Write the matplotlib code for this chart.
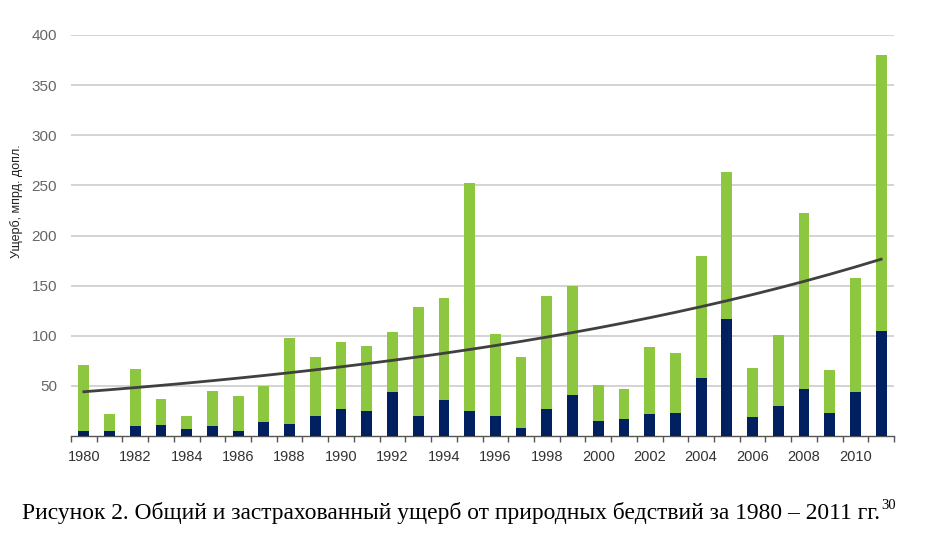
import numpy as np
import matplotlib
matplotlib.use('Agg')
import matplotlib.pyplot as plt

years = list(range(1980, 2012))
total = [71, 22, 67, 37, 20, 45, 40, 50, 98, 79,
         94, 90, 104, 129, 138, 252, 102, 79, 140, 150,
         51, 47, 89, 83, 180, 263, 68, 101, 222, 66,
         158, 380]
insured = [5, 5, 10, 11, 7, 10, 5, 14, 12, 20,
           27, 25, 44, 20, 36, 25, 20, 8, 27, 41,
           15, 17, 22, 23, 58, 117, 19, 30, 47, 23,
           44, 105]
y_ticks = [50, 100, 150, 200, 250, 300, 350, 400]
y_label = 'Ущерб, мпрд. допл.'
caption = 'Рисунок 2. Общий и застрахованный ущерб от природных бедствий за 1980 – 2011 гг.'
footnote = '30'

green = '#8dc63f'
navy = '#002060'

plt.rcParams['font.family'] = ['Liberation Sans', 'DejaVu Sans']

fig = plt.figure(figsize=(9.25, 5.5), dpi=100)
ax = fig.add_axes([71 / 925, 114 / 550, 823 / 925, 401 / 550])

x = np.arange(len(years))
total = np.array(total, dtype=float)
insured = np.array(insured, dtype=float)

ax.bar(x, total, width=0.42, color=green, zorder=2)
ax.bar(x, insured, width=0.42, color=navy, zorder=3)

# exponential trend line (least squares on log values, like Excel)
k, b = np.polyfit(x, np.log(total), 1)
ax.plot(x, np.exp(b + k * x), color='#404040', lw=2.0, zorder=4)

ax.set_xlim(-0.5, len(years) - 0.5)
ax.set_ylim(0, 400)
ax.set_yticks(y_ticks)
ax.yaxis.grid(True, color='#c8c8c8', lw=1.1, zorder=0)
ax.set_axisbelow(True)

ax.set_xticks(x[::2])
ax.set_xticklabels([str(y) for y in years[::2]])
ax.set_xticks(np.arange(-0.5, len(years)), minor=True)
ax.tick_params(axis='x', which='major', length=0, pad=10, labelsize=10.5, labelcolor='#333333')
ax.tick_params(axis='x', which='minor', length=4, width=1, color='#555555', direction='out')
ax.tick_params(axis='y', length=0, pad=10, labelsize=11, labelcolor='#666666')

for s in ['left', 'right', 'top']:
    ax.spines[s].set_visible(False)
ax.spines['bottom'].set_color('#555555')
ax.spines['bottom'].set_linewidth(1.0)

fig.text(17 / 925, 1 - 201 / 550, y_label, rotation=90, ha='center', va='center',
         fontsize=9, color='#222222')

t = fig.text(22 / 925, 1 - 519 / 550, caption, ha='left', va='baseline',
             fontsize=16.9, family='Liberation Serif', color='black')
fig.canvas.draw()
bb = t.get_window_extent()
fig.text((bb.x1 + 1) / 925, 38 / 550, footnote, ha='left', va='bottom',
         fontsize=10.5, family='Liberation Serif', color='black')

fig.savefig('out.png', dpi=100)
